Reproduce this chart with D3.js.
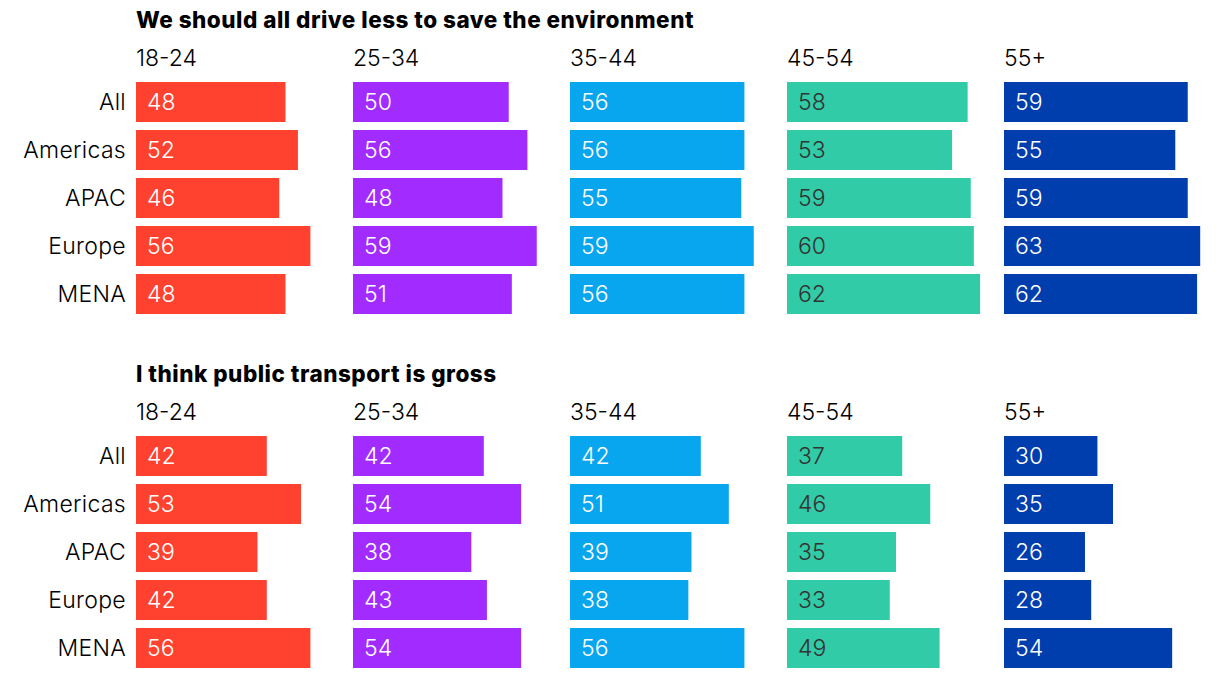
<!DOCTYPE html>
<html>
<head>
<meta charset="utf-8">
<script src="https://cdn.jsdelivr.net/npm/d3@7"></script>
<style>
  body { margin: 0; background: #fff; }
  text { font-family: Inter, "Noto Sans", sans-serif; }
</style>
</head>
<body>
<div id="chart"></div>
<script>
'use strict';

const ages = ["18-24", "25-34", "35-44", "45-54", "55+"]
const regions = ["All", "Americas", "APAC", "Europe", "MENA"]
const titles = ["We should all drive less to save the environment", "I think public transport is gross"]
const ageColors = ["#ff4230", "#a22cff", "#08a6ee", "#31cba8", "#003dad"]
const textColors = ["#fff", "#fff", "#fff", "#333", "#fff"]

// values per age column, in region order
const driveLess = [
    [48, 52, 46, 56, 48],
    [50, 56, 48, 59, 51],
    [56, 56, 55, 59, 56],
    [58, 53, 59, 60, 62],
    [59, 55, 59, 63, 62]
]
const transportGross = [
    [42, 53, 39, 42, 56],
    [42, 54, 38, 43, 54],
    [42, 51, 39, 38, 56],
    [37, 46, 35, 33, 49],
    [30, 35, 26, 28, 54]
]

const width = 1220, height = 678

const svg = d3.select("#chart")
    .append("svg")
    .attr("width", width)
    .attr("height", height)

const colScale = d3.scaleBand()
    .domain(ages)
    .range([136, 136 + 5 * 217])

const barScale = d3.scaleLinear()
    .domain([0, 70])
    .range([0, 218])

const rowScale = d3.scaleBand()
    .domain(regions)
    .range([82, 82 + 5 * 48 - 8])
    .paddingInner(8 / 48)

const color = d3.scaleOrdinal().domain(ages).range(ageColors)
const textColor = d3.scaleOrdinal().domain(ages).range(textColors)

const drawPanel = (title, values, offset) => {
    let g = svg.append("g")
        .attr("transform", `translate(0, ${offset})`)

    g.append("text")
        .attr("x", 136)
        .attr("y", 28)
        .attr("font-size", 22.5)
        .attr("font-weight", 800)
        .attr("letter-spacing", 0.5)
        .attr("fill", "#000")
        .text(title)

    g.selectAll(".age")
        .data(ages)
        .join("text")
        .attr("class", "age")
        .attr("x", d => colScale(d))
        .attr("y", 66)
        .attr("font-size", 23)
        .attr("font-weight", 300)
        .attr("fill", "#000")
        .text(d => d)

    g.selectAll(".region")
        .data(regions)
        .join("text")
        .attr("class", "region")
        .attr("x", 126)
        .attr("y", d => rowScale(d) + rowScale.bandwidth() / 2)
        .attr("dy", "0.36em")
        .attr("text-anchor", "end")
        .attr("font-size", 23)
        .attr("font-weight", 300)
        .attr("letter-spacing", 0.3)
        .attr("fill", "#000")
        .text(d => d)

    ages.forEach((age, i) => {
        let cells = values[i].map((v, j) => ({ age, region: regions[j], value: v }))
        let col = g.append("g")
            .attr("transform", `translate(${colScale(age)}, 0)`)

        col.selectAll("rect")
            .data(cells)
            .join("rect")
            .attr("x", 0)
            .attr("y", d => rowScale(d.region))
            .attr("width", d => barScale(d.value))
            .attr("height", rowScale.bandwidth())
            .attr("fill", d => color(d.age))

        col.selectAll("text")
            .data(cells)
            .join("text")
            .attr("x", 11)
            .attr("y", d => rowScale(d.region) + rowScale.bandwidth() / 2)
            .attr("dy", "0.36em")
            .attr("font-size", 23)
            .attr("font-weight", 300)
            .attr("fill", d => textColor(d.age))
            .text(d => d.value)
    })
}

drawPanel(titles[0], driveLess, 0)
drawPanel(titles[1], transportGross, 354)
</script>
</body>
</html>
